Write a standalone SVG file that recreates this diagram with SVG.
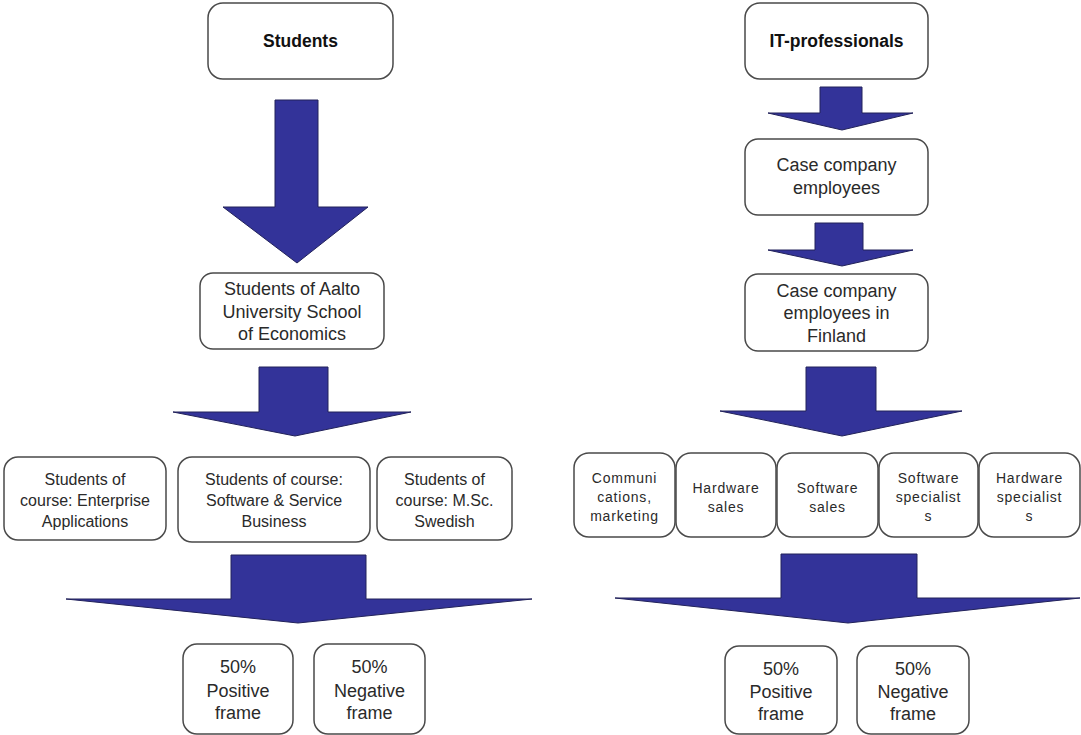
<svg xmlns="http://www.w3.org/2000/svg" width="1081" height="735" viewBox="0 0 1081 735">
  <style>
    .box { fill: #ffffff; stroke: #4a4a4a; stroke-width: 1.5; }
    .arrow { fill: #333399; stroke: #22225a; stroke-width: 1; stroke-linejoin: miter; }
    text { font-family: "Liberation Sans", Arial, sans-serif; fill: #2a2a2a; text-anchor: middle; }
    .title { font-size: 17.5px; font-weight: bold; fill: #111111; }
    .big { font-size: 18px; }
    .mid { font-size: 16px; }
    .small { font-size: 14px; letter-spacing: 0.8px; }
  </style>
  <rect width="1081" height="735" fill="#ffffff"/>

  <!-- block arrows -->
  <g id="connectors">
    <polygon class="arrow" points="275,100 318,100 318,207 368,207 297,263 223,207 275,207"/>
    <polygon class="arrow" points="259,367 328,367 328,412 411,412 295,436 173,412 259,412"/>
    <polygon class="arrow" points="231,555 366,555 366,599 532,599 298,623 66,599 231,599"/>
    <polygon class="arrow" points="820,87 862,87 862,113 913,113 842,130 768,113 820,113"/>
    <polygon class="arrow" points="815,223 863,223 863,250 913,250 842,266 768,250 815,250"/>
    <polygon class="arrow" points="806,367 876,367 876,411 962,411 842,436 720,411 806,411"/>
    <polygon class="arrow" points="781,554 917,554 917,598 1080,598 848,623 615,598 781,598"/>
  </g>

  <!-- left column -->
  <g id="students">
    <rect class="box" x="208" y="3" width="185" height="76" rx="15"/>
    <text class="title" x="300.5" y="47">Students</text>
  </g>
  <g id="aalto">
    <rect class="box" x="200" y="273" width="184" height="76" rx="13"/>
    <text class="big" x="292" y="295">Students of Aalto</text>
    <text class="big" x="292" y="318">University School</text>
    <text class="big" x="292" y="340">of Economics</text>
  </g>
  <g id="course-enterprise">
    <rect class="box" x="4" y="457" width="162" height="83" rx="14"/>
    <text class="mid" x="85" y="485">Students of</text>
    <text class="mid" x="85" y="506">course: Enterprise</text>
    <text class="mid" x="85" y="527">Applications</text>
  </g>
  <g id="course-software">
    <rect class="box" x="178" y="457" width="192" height="85" rx="14"/>
    <text class="mid" x="274" y="485">Students of course:</text>
    <text class="mid" x="274" y="506">Software &amp; Service</text>
    <text class="mid" x="274" y="527">Business</text>
  </g>
  <g id="course-swedish">
    <rect class="box" x="377" y="457" width="135" height="83" rx="14"/>
    <text class="mid" x="444.5" y="485">Students of</text>
    <text class="mid" x="444.5" y="506">course: M.Sc.</text>
    <text class="mid" x="444.5" y="527">Swedish</text>
  </g>
  <g id="students-positive">
    <rect class="box" x="183" y="644" width="110" height="90" rx="14"/>
    <text class="big" x="238" y="673">50%</text>
    <text class="big" x="238" y="697">Positive</text>
    <text class="big" x="238" y="719">frame</text>
  </g>
  <g id="students-negative">
    <rect class="box" x="314" y="644" width="111" height="90" rx="14"/>
    <text class="big" x="369.5" y="673">50%</text>
    <text class="big" x="369.5" y="697">Negative</text>
    <text class="big" x="369.5" y="719">frame</text>
  </g>

  <!-- right column -->
  <g id="it-professionals">
    <rect class="box" x="745" y="3" width="183" height="76" rx="15"/>
    <text class="title" x="836.5" y="47">IT-professionals</text>
  </g>
  <g id="case-employees">
    <rect class="box" x="745" y="139" width="183" height="76" rx="13"/>
    <text class="big" x="836.5" y="171">Case company</text>
    <text class="big" x="836.5" y="194">employees</text>
  </g>
  <g id="case-employees-finland">
    <rect class="box" x="745" y="274" width="183" height="77" rx="13"/>
    <text class="big" x="836.5" y="297">Case company</text>
    <text class="big" x="836.5" y="319">employees in</text>
    <text class="big" x="836.5" y="342">Finland</text>
  </g>
  <g id="communications">
    <rect class="box" x="574" y="453" width="101" height="84" rx="15"/>
    <text class="small" x="624.5" y="483">Communi</text>
    <text class="small" x="624.5" y="502">cations,</text>
    <text class="small" x="624.5" y="521">marketing</text>
  </g>
  <g id="hardware-sales">
    <rect class="box" x="676" y="453" width="100" height="84" rx="15"/>
    <text class="small" x="726" y="493">Hardware</text>
    <text class="small" x="726" y="512">sales</text>
  </g>
  <g id="software-sales">
    <rect class="box" x="777" y="453" width="101" height="84" rx="15"/>
    <text class="small" x="827.5" y="493">Software</text>
    <text class="small" x="827.5" y="512">sales</text>
  </g>
  <g id="software-specialists">
    <rect class="box" x="879" y="453" width="99" height="84" rx="15"/>
    <text class="small" x="928.5" y="483">Software</text>
    <text class="small" x="928.5" y="502">specialist</text>
    <text class="small" x="928.5" y="521">s</text>
  </g>
  <g id="hardware-specialists">
    <rect class="box" x="979" y="453" width="101" height="84" rx="15"/>
    <text class="small" x="1029.5" y="483">Hardware</text>
    <text class="small" x="1029.5" y="502">specialist</text>
    <text class="small" x="1029.5" y="521">s</text>
  </g>
  <g id="it-positive">
    <rect class="box" x="725" y="646" width="112" height="88" rx="14"/>
    <text class="big" x="781" y="675">50%</text>
    <text class="big" x="781" y="698">Positive</text>
    <text class="big" x="781" y="720">frame</text>
  </g>
  <g id="it-negative">
    <rect class="box" x="857" y="646" width="112" height="88" rx="14"/>
    <text class="big" x="913" y="675">50%</text>
    <text class="big" x="913" y="698">Negative</text>
    <text class="big" x="913" y="720">frame</text>
  </g>
</svg>
